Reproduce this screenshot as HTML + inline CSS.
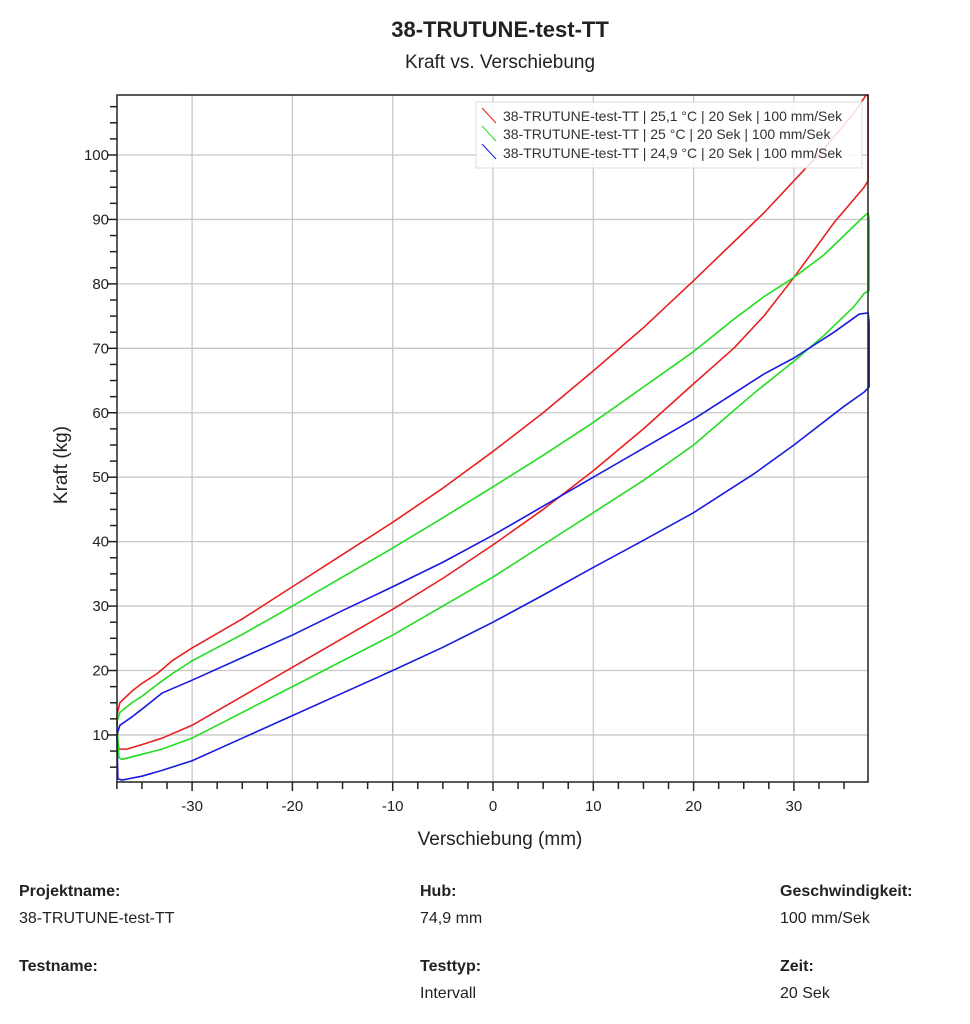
<!DOCTYPE html>
<html><head><meta charset="utf-8">
<style>
body{margin:0;background:#fff;width:970px;height:1024px;overflow:hidden;font-family:"Liberation Sans",sans-serif;color:#222}
.t{position:absolute;white-space:nowrap}
.b{font-weight:bold;font-size:16px}
.v{font-size:16px}
</style></head><body>
<div class="t" style="left:0;width:1000px;text-align:center;top:17px;font-size:22px;font-weight:bold">38-TRUTUNE-test-TT</div>
<div class="t" style="left:0;width:1000px;text-align:center;top:52px;font-size:19px">Kraft vs. Verschiebung</div>
<svg id="s" width="970" height="1024" style="position:absolute;left:0;top:0">
<g id="grid" stroke="#c8c8c8" stroke-width="1.3"></g>
<g transform="translate(493,799.4) scale(10.03,-6.444)" fill="none" stroke-width="1.6" stroke-linejoin="round">
<polyline vector-effect="non-scaling-stroke" stroke="#e82020" points="-37.5,13 -37.2,15 -36,16.8 -35,18 -33.5,19.5 -32,21.5 -30,23.5 -25,28 -20,33 -15,38 -10,43 -5,48.3 0,54 5,60 10,66.5 15,73.2 20,80.5 24,86.5 27,91 30,96 33,101 36,106.5 37.2,109.3 37.4,109.3 37.4,96 37,95 34,89.5 30,81 27,75 24,70 20,64.5 15,57.5 10,51 5,45 0,39.5 -5,34.3 -10,29.5 -15,25 -20,20.5 -25,16 -30,11.5 -33,9.5 -35,8.5 -36.5,7.8 -37.3,7.8 -37.4,9 -37.5,13"/>
<polyline vector-effect="non-scaling-stroke" stroke="#22dd22" points="-37.5,12 -37.2,13.5 -36,15 -35,16 -33.5,17.8 -32,19.5 -30,21.5 -25,25.6 -20,30 -15,34.5 -10,39 -5,43.7 0,48.5 5,53.4 10,58.5 15,64 20,69.5 24,74.5 27,78 30,81 33,84.5 36,89 37,90.5 37.4,91 37.5,90 37.5,79 37,78.5 36,76.5 33,72 30,68 26,63 20,55 15,49.5 10,44.5 5,39.5 0,34.5 -5,30 -10,25.5 -15,21.5 -20,17.5 -25,13.5 -30,9.5 -33,7.8 -35,7 -37,6.2 -37.3,6.5 -37.5,12"/>
<polyline vector-effect="non-scaling-stroke" stroke="#1a1ae0" points="-37.5,10 -37.2,11.5 -36,12.8 -35,14 -33,16.5 -30,18.5 -25,22 -20,25.5 -15,29.3 -10,33 -5,36.8 0,41 5,45.5 10,50 15,54.5 20,59 24,63 27,66 30,68.5 34,72.5 36.5,75.3 37.4,75.5 37.5,74 37.5,64 37,63.2 35,61 30,55 26,50.5 20,44.5 15,40.2 10,36 5,31.7 0,27.5 -5,23.6 -10,20 -15,16.5 -20,13 -25,9.5 -30,6 -33,4.5 -35,3.6 -37,3 -37.4,3.2 -37.5,10"/>
</g>
<g id="ax" stroke="#222" stroke-width="1.5" fill="none"></g>
<g id="lab" font-family="Liberation Sans,sans-serif" font-size="15" fill="#222"></g>
<rect x="476" y="102" width="386" height="66" fill="#fff" fill-opacity="0.85" stroke="#ddd"/>
<g font-family="Liberation Sans,sans-serif" font-size="14" fill="#333">
<line x1="482" y1="108" x2="496" y2="123" stroke="#e82020"/><text x="503" y="121">38-TRUTUNE-test-TT | 25,1 °C | 20 Sek | 100 mm/Sek</text>
<line x1="482" y1="126" x2="496" y2="141" stroke="#22dd22"/><text x="503" y="139">38-TRUTUNE-test-TT | 25 °C | 20 Sek | 100 mm/Sek</text>
<line x1="482" y1="144" x2="496" y2="159" stroke="#1a1ae0"/><text x="503" y="158">38-TRUTUNE-test-TT | 24,9 °C | 20 Sek | 100 mm/Sek</text>
</g>
<text x="67" y="465" transform="rotate(-90 67 465)" text-anchor="middle" font-family="Liberation Sans,sans-serif" font-size="19" fill="#222">Kraft (kg)</text>
<text x="500" y="845" text-anchor="middle" font-family="Liberation Sans,sans-serif" font-size="19" fill="#222">Verschiebung (mm)</text>
</svg>
<script>
var ns="http://www.w3.org/2000/svg";
function el(p,t,a,txt){var e=document.createElementNS(ns,t);for(var k in a)e.setAttribute(k,a[k]);if(txt)e.textContent=txt;document.getElementById(p).appendChild(e);}
function X(v){return 493+10.03*v}function Y(v){return 799.4-6.444*v}
var L=117,R=868,T=95,B=782;
for(var v=-30;v<=30;v+=10){el('grid','line',{x1:X(v),x2:X(v),y1:T,y2:B});el('lab','text',{x:X(v),y:B+29,'text-anchor':'middle'},String(v));}
for(var v=10;v<=100;v+=10){el('grid','line',{x1:L,x2:R,y1:Y(v),y2:Y(v)});el('lab','text',{x:L-8,y:Y(v)+5,'text-anchor':'end'},String(v));}
el('ax','rect',{x:L,y:T,width:R-L,height:B-T});
for(var v=-37.5;v<=37.5;v+=2.5){var x=X(v);if(x<L-1||x>R+1)continue;var mj=Math.abs(v%10)<.01;el('ax','line',{x1:x,x2:x,y1:B,y2:B+(mj?9:7)});}
for(var v=2.5;v<=110;v+=2.5){var y=Y(v);if(y<T||y>B)continue;var mj=Math.abs(v%10)<.01;el('ax','line',{x1:L,x2:L-(mj?9:7),y1:y,y2:y});}
</script>
<div class="t b" style="left:19px;top:883px">Projektname:</div>
<div class="t v" style="left:19px;top:910px">38-TRUTUNE-test-TT</div>
<div class="t b" style="left:19px;top:958px">Testname:</div>
<div class="t b" style="left:420px;top:883px">Hub:</div>
<div class="t v" style="left:420px;top:910px">74,9 mm</div>
<div class="t b" style="left:420px;top:958px">Testtyp:</div>
<div class="t v" style="left:420px;top:985px">Intervall</div>
<div class="t b" style="left:780px;top:883px">Geschwindigkeit:</div>
<div class="t v" style="left:780px;top:910px">100 mm/Sek</div>
<div class="t b" style="left:780px;top:958px">Zeit:</div>
<div class="t v" style="left:780px;top:985px">20 Sek</div>
</body></html>
